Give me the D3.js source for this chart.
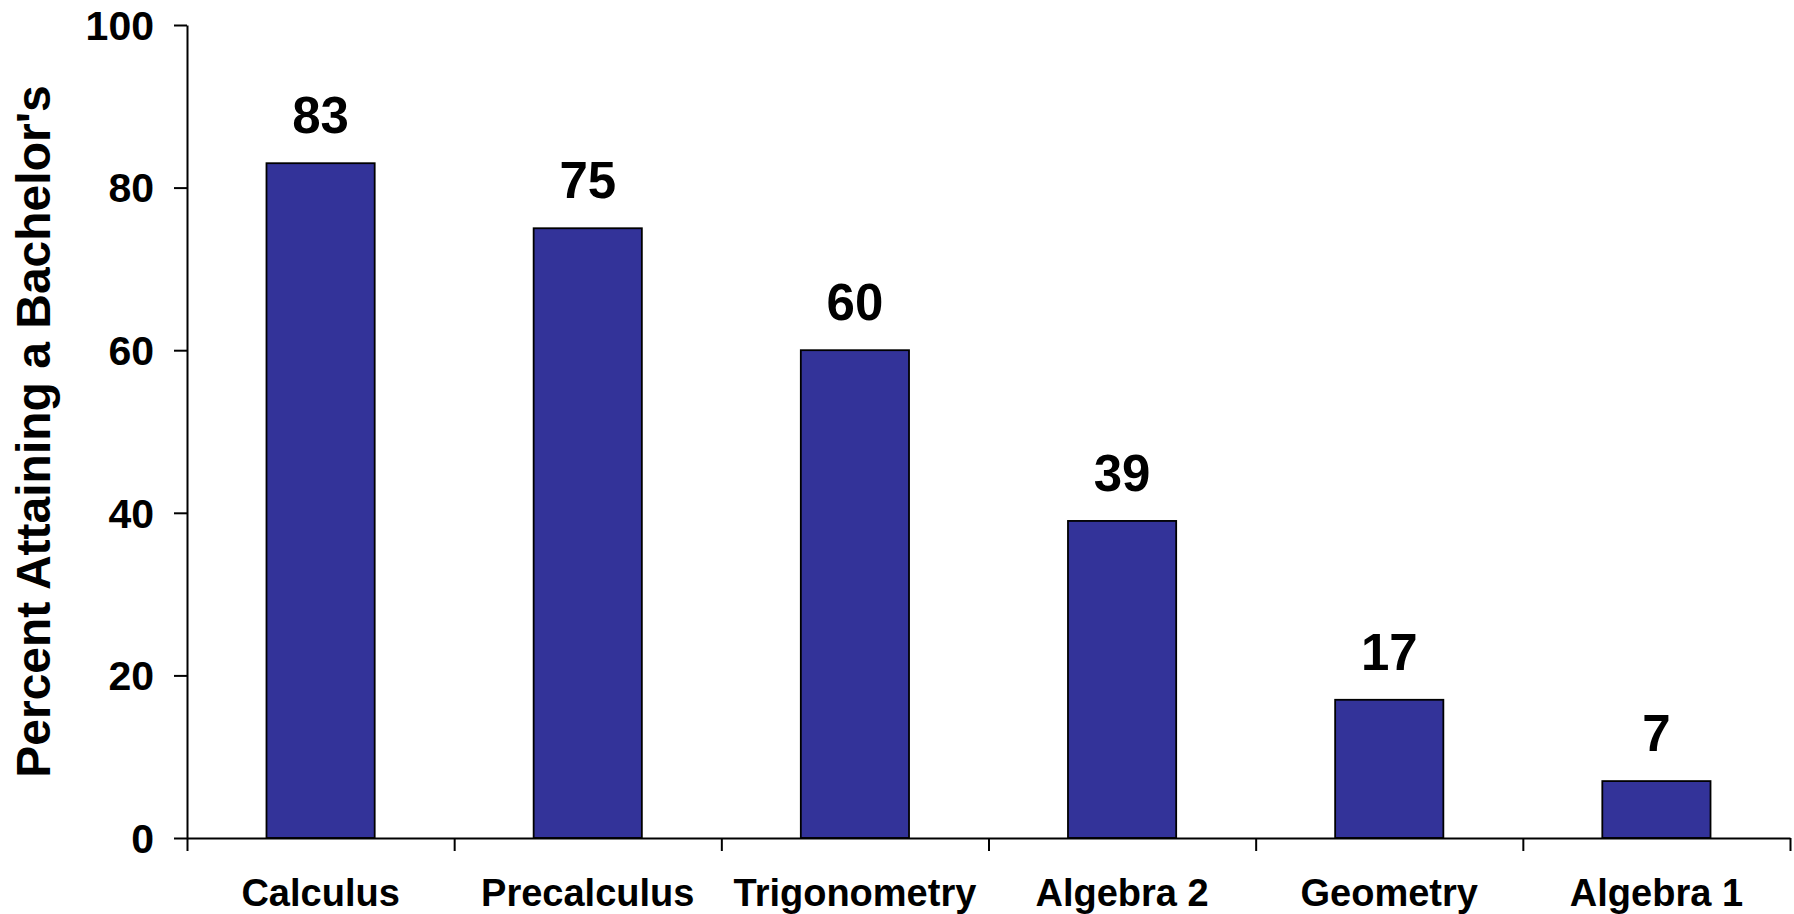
<!DOCTYPE html>
<html>
<head>
<meta charset="utf-8">
<script src="https://cdn.jsdelivr.net/npm/d3@7"></script>
<style>
  body { margin: 0; background: #fff; }
  svg text { font-family: "Liberation Sans", Arial, sans-serif; font-weight: bold; fill: #000; }
</style>
</head>
<body>
<div id="chart"></div>
<script>
// data
const courses = ["Calculus", "Precalculus", "Trigonometry", "Algebra 2", "Geometry", "Algebra 1"];
const percents = [83, 75, 60, 39, 17, 7];
const yTicks = [0, 20, 40, 60, 80, 100];
const yTitle = "Percent Attaining a Bachelor's";

const width = 1794, height = 914;
const margin = {top: 25, right: 4, bottom: 76, left: 187};
const innerW = width - margin.left - margin.right;
const innerH = height - margin.top - margin.bottom;

const svg = d3.select("#chart").append("svg")
  .attr("width", width)
  .attr("height", height);

const g = svg.append("g")
  .attr("transform", `translate(${margin.left},${margin.top})`);

const x = d3.scaleBand()
  .domain(courses)
  .range([0, innerW])
  .paddingInner(0.595)
  .paddingOuter(0.2975);

const y = d3.scaleLinear()
  .domain([0, 100])
  .range([innerH, 0]);

// bars
g.selectAll("rect.bar")
  .data(percents)
  .join("rect")
  .attr("class", "bar")
  .attr("x", (d, i) => x(courses[i]))
  .attr("y", d => y(d))
  .attr("width", x.bandwidth())
  .attr("height", d => innerH - y(d))
  .attr("fill", "#333399")
  .attr("stroke", "#000")
  .attr("stroke-width", 1.8);

// value labels
g.selectAll("text.val")
  .data(percents)
  .join("text")
  .attr("class", "val")
  .attr("x", (d, i) => x(courses[i]) + x.bandwidth() / 2)
  .attr("y", d => y(d) - 30)
  .attr("text-anchor", "middle")
  .style("font-size", "51px")
  .text(d => d);

// y axis
const yAxis = g.append("g")
  .call(d3.axisLeft(y).tickValues(yTicks).tickSize(13).tickSizeOuter(0).tickPadding(20));
yAxis.selectAll("text").style("font-size", "41px").attr("dy", "0.35em");

// x axis: boundary ticks between categories
const xEdge = d3.scaleLinear().domain([0, courses.length]).range([0, innerW]);
g.append("g")
  .attr("transform", `translate(0,${innerH})`)
  .call(d3.axisBottom(xEdge).tickValues(d3.range(courses.length + 1)).tickFormat("").tickSize(13).tickSizeOuter(0));

// x axis: category labels
const xAxis = g.append("g")
  .attr("transform", `translate(0,${innerH})`)
  .call(d3.axisBottom(x).tickSize(0).tickSizeOuter(0));
xAxis.select(".domain").remove();
xAxis.selectAll("text")
  .style("font-size", "38px")
  .attr("y", 68)
  .attr("dy", 0);

svg.selectAll(".domain, .tick line")
  .attr("stroke", "#000")
  .attr("stroke-width", 2);

// y axis title
svg.append("text")
  .attr("transform", `translate(50,${margin.top + innerH / 2}) rotate(-90)`)
  .attr("text-anchor", "middle")
  .style("font-size", "48px")
  .text(yTitle);
</script>
</body>
</html>
